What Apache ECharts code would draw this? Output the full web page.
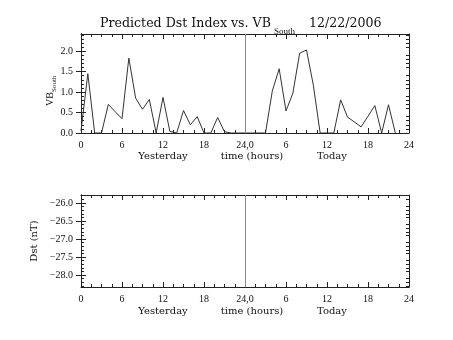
<!DOCTYPE html>
<html>
<head>
<meta charset="utf-8">
<script src="https://cdn.jsdelivr.net/npm/echarts@6/dist/echarts.min.js"></script>
<style>
html,body{margin:0;padding:0;background:#fff;}
#chart{width:453px;height:340px;}
</style>
</head>
<body>
<div id="chart"></div>
<script>
// ---- data ----
const hours = [0,1,2,3,4,5,6,7,8,9,10,11,12,13,14,15,16,17,18,19,20,21,22,23,
               24,25,26,27,28,29,30,31,32,33,34,35,36,37,38,39,40,41,42,43,44,45,46,47];
const vbSouth = [0.05,1.45,0,0,0.70,0.52,0.35,1.83,0.85,0.58,0.82,0,0.87,0.04,0,0.55,0.20,0.40,0,0,0.38,0.03,0,0,
                 0,0,0,0,1.03,1.57,0.54,0.97,1.95,2.03,1.17,0,0,0,0.81,0.39,0.27,0.15,0.41,0.67,0,0.69,0,null];
const dstValues = []; // no predicted Dst values shown
const xTickLabels = ['0','6','12','18','24,0','6','12','18','24'];
const vbTickLabels = ['0.0','0.5','1.0','1.5','2.0'];
const dstTickLabels = ['\u221228.0','\u221227.5','\u221227.0','\u221226.5','\u221226.0'];
const dayLabels = ['Yesterday','time (hours)','Today'];
const titleMain = 'Predicted Dst Index vs. VB';
const titleSub = 'South';
const titleDate = '12/22/2006';

// ---- layout / style ----
const AX = '#222';
const FONT = 'Liberation Serif';
const FONT2 = 'DejaVu Serif';
const vbTickValues = vbTickLabels.map(parseFloat);
const dstTickValues = dstTickLabels.map(s => parseFloat(s.replace('\u2212','-')));
function minorVals(lo, hi, step, majors) {
  const out = [];
  for (let k = Math.ceil(lo/step - 1e-6); k*step <= hi + 1e-9; k++) {
    const v = Math.round(k*step*1000)/1000;
    if (!majors.some(m => Math.abs(m - v) < 1e-6)) out.push(v);
  }
  return out;
}
function yAxesFor(grid, min, max, majors, labels, minorStep, name) {
  const minors = minorVals(min, max, minorStep, majors);
  const base = {type:'value', gridIndex:grid, min:min, max:max, splitLine:{show:false},
                axisLine:{show:true, lineStyle:{color:AX, width:1}}};
  const mk = (pos, major, showLabel) => Object.assign({}, base, {
    position: pos,
    name: showLabel && name ? name : '',
    nameLocation:'middle', nameGap:34,
    nameTextStyle:{fontFamily:FONT2, fontSize:10, color:'#111'},
    axisTick:{show:true, inside:true, length: major?5:3, customValues: major?majors:minors,
              lineStyle:{color:AX, width:1}},
    axisLabel:{show:showLabel, customValues:majors, fontFamily:FONT, fontSize:10, color:'#111', margin:8,
               formatter:(v)=>{const i = majors.findIndex(m=>Math.abs(m-v)<1e-6); return i>=0?labels[i]:'';}}
  });
  return [mk('left',true,true), mk('right',true,false), mk('left',false,false), mk('right',false,false)];
}
function xAxesFor(grid) {
  const base = {type:'value', gridIndex:grid, min:0, max:48, interval:6, splitLine:{show:false},
                axisLine:{show:true, onZero:false, lineStyle:{color:AX, width:1}},
                axisTick:{show:true, inside:true, length:5, lineStyle:{color:AX}},
                minorTick:{show:true, splitNumber:4, length:3, lineStyle:{color:AX}}};
  return [
    Object.assign({}, base, {position:'bottom',
      axisLabel:{show:true, fontFamily:FONT, fontSize:10, color:'#111', margin:7,
        showMinLabel:true, showMaxLabel:true,
        formatter:(v)=>xTickLabels[Math.round(v/6)]}}),
    Object.assign({}, base, {position:'top', axisLabel:{show:false}})
  ];
}

const vbData = hours.map((h,i)=>[h, vbSouth[i]]);
const grids = [
  {left:81, right:44, top:34, height:99, outerBoundsMode:'none', containLabel:false},
  {left:81, right:44, top:195, height:92, outerBoundsMode:'none', containLabel:false}
];
const xAxis = [...xAxesFor(0), ...xAxesFor(1)];
const yAxis = [...yAxesFor(0, 0, 2.42, vbTickValues, vbTickLabels, 0.1, ''),
               ...yAxesFor(1, -28.33, -25.78, dstTickValues, dstTickLabels, 0.1, 'Dst (nT)')];

const vline = (color)=>({silent:true, symbol:['none','none'], label:{show:false},
  lineStyle:{color:color, type:'solid', width:1}, data:[{xAxis:24}], animation:false});

const txt = (x,y,text,size,family,align)=>({type:'text', x:x, y:y,
  style:{text:text, fontSize:size, fontFamily:family, fill:'#111', align:align||'left', verticalAlign:'middle'}});

const option = {
  animation:false,
  backgroundColor:'#fff',
  grid: grids,
  xAxis: xAxis,
  yAxis: yAxis,
  series: [
    {type:'line', xAxisIndex:0, yAxisIndex:0, data:vbData, showSymbol:false, symbol:'none',
     connectNulls:false, lineStyle:{color:'#333', width:1}, markLine:vline('#8a8a8a')},
    {type:'line', xAxisIndex:2, yAxisIndex:4, data:dstValues, showSymbol:false, symbol:'none',
     lineStyle:{color:'#333', width:1}, markLine:vline('#8a8a8a')}
  ],
  graphic: [
    txt(100, 24, titleMain, 12.6, FONT2),
    txt(274, 32, titleSub, 9, FONT),
    txt(309, 24, titleDate, 12.6, FONT2),
    txt(163, 156, dayLabels[0], 10, FONT2, 'center'),
    txt(252, 156, dayLabels[1], 10, FONT2, 'center'),
    txt(332, 156, dayLabels[2], 10, FONT2, 'center'),
    txt(163, 311, dayLabels[0], 10, FONT2, 'center'),
    txt(252, 311, dayLabels[1], 10, FONT2, 'center'),
    txt(332, 311, dayLabels[2], 10, FONT2, 'center'),
    {type:'group', x:50, y:106, rotation:Math.PI/2, children:[
      {type:'text', x:0, y:0, style:{text:'VB', fontSize:10, fontFamily:FONT, fill:'#111', align:'left', verticalAlign:'middle'}},
      {type:'text', x:14, y:4, style:{text:'South', fontSize:7, fontFamily:FONT, fill:'#111', align:'left', verticalAlign:'middle'}}
    ]}
  ]
};
const chart = echarts.init(document.getElementById('chart'), null, {renderer:'canvas'});
chart.setOption(option);
</script>
</body>
</html>
